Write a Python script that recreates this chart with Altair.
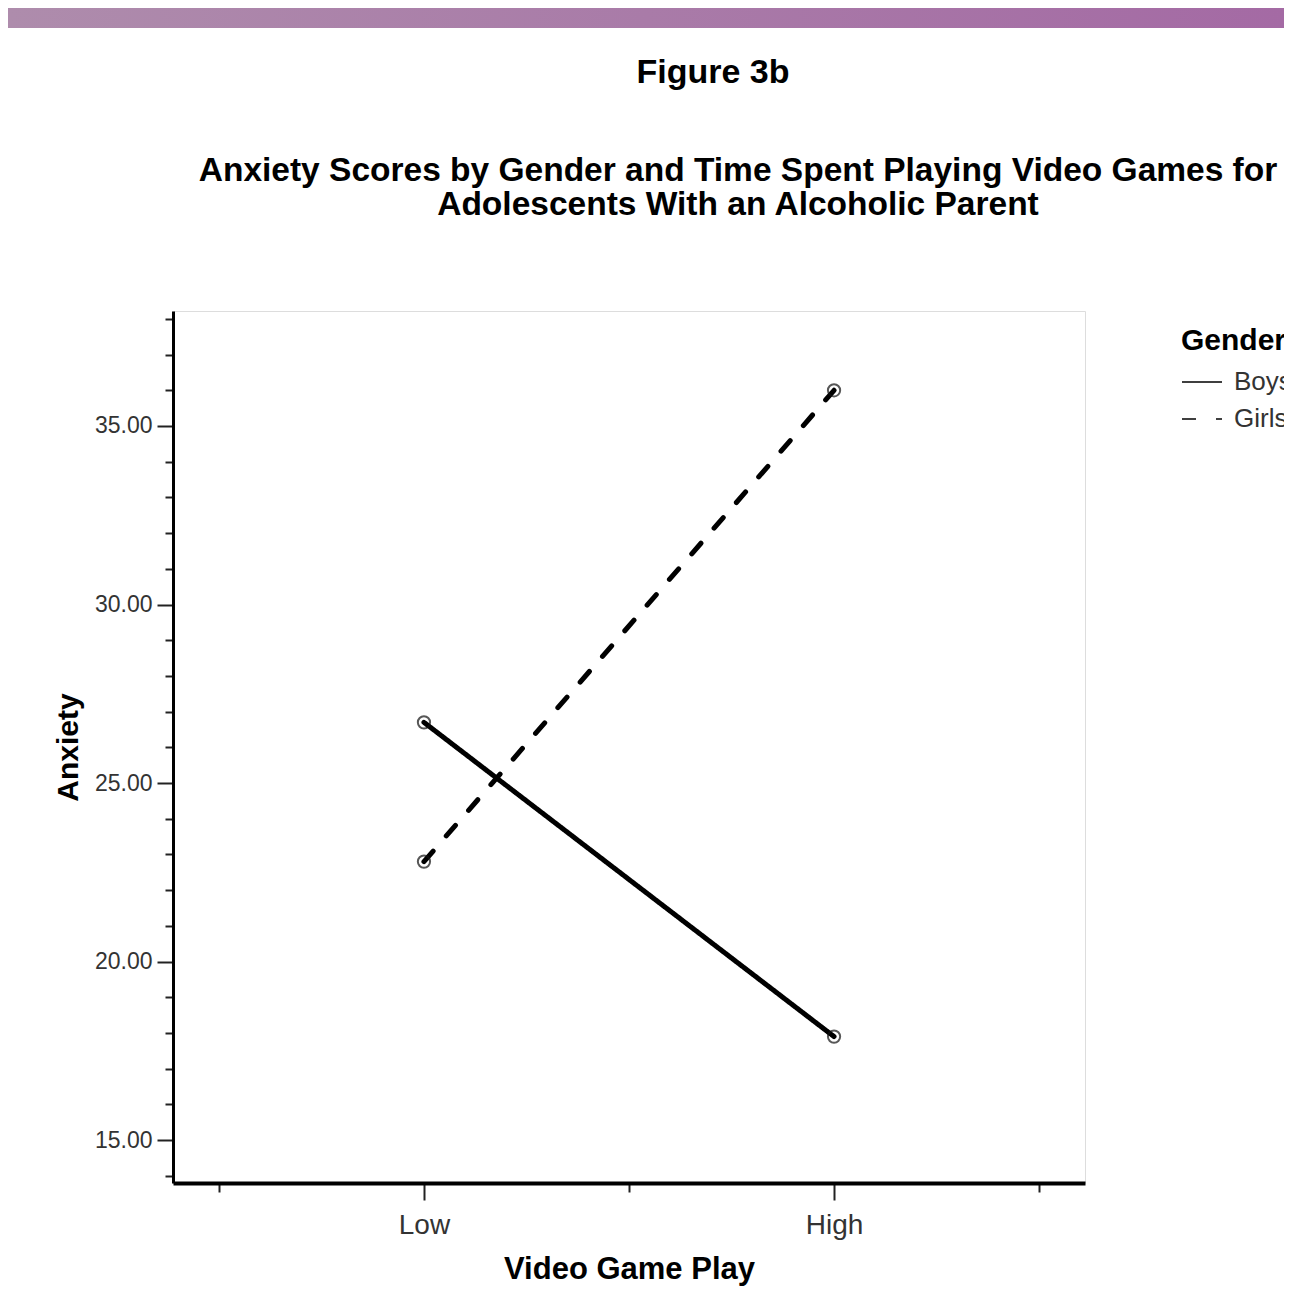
import altair as alt
import pandas as pd

# ---- data ----
play_levels = ["Low", "High"]
genders = ["Boys", "Girls"]
boys_anxiety = [26.7, 17.9]
girls_anxiety = [22.8, 36.0]

y_tick_values = list(range(14, 39))
x_axis_slots = ["_a", "Low", "_b", "High", "_c"]

title_lines = ["Anxiety Scores by Gender and Time Spent Playing Video Games for",
               "Adolescents With an Alcoholic Parent"]
figure_label = "Figure 3b"

rows = []
for g, vals in zip(genders, [boys_anxiety, girls_anxiety]):
    for p, v in zip(play_levels, vals):
        rows.append({"Gender": g, "Video Game Play": p, "Anxiety": v})
df = pd.DataFrame(rows)

FONT = "Liberation Sans"
W, H = 912, 872
PAD_L, PAD_T, PAD_R, PAD_B = 165, 303, 199, 115

x_enc = alt.X(
    "Video Game Play:O",
    scale=alt.Scale(type="point", domain=x_axis_slots, padding=0.224),
    axis=alt.Axis(
        title="Video Game Play",
        labelExpr="indexof(['Low','High'], datum.value) >= 0 ? datum.value : ''",
        labelAngle=0, labelOverlap=False,
        labelFont=FONT, labelFontSize=28, labelColor="#333333",
        labelPadding=11,
        tickSize={"condition": {"test": "indexof(['Low','High'], datum.value) >= 0", "value": 17}, "value": 9},
        tickWidth=2, tickColor="#222222",
        domainColor="#000000", domainWidth=4,
        titleFont=FONT, titleFontSize=31, titleFontWeight="bold", titleColor="#000000",
        titleY=86, titleBaseline="middle",
    ),
)

y_enc = alt.Y(
    "Anxiety:Q",
    scale=alt.Scale(domain=[13.8, 38.22], nice=False, zero=False),
    axis=alt.Axis(
        title="Anxiety",
        values=y_tick_values,
        tickCount=len(y_tick_values),
        labelOverlap=False,
        labelExpr="datum.value % 5 == 0 ? format(datum.value, '.2f') : ''",
        labelFont=FONT, labelFontSize=23, labelColor="#333333",
        labelPadding=5,
        tickSize={"condition": {"test": "datum.value % 5 == 0", "value": 16}, "value": 8},
        tickWidth=2, tickColor="#222222",
        domainColor="#000000", domainWidth=3,
        titleFont=FONT, titleFontSize=30, titleFontWeight="bold", titleColor="#000000",
        titleAngle=-90, titleX=-105, titleY=H / 2, titleAlign="center", titleBaseline="middle",
        grid=False,
    ),
)

dash = alt.StrokeDash(
    "Gender:N",
    scale=alt.Scale(domain=genders, range=[[1, 0], [14, 20]]),
    legend=alt.Legend(
        title="Gender", orient="none", legendX=1008, legendY=15,
        titleFont=FONT, titleFontSize=30, titleFontWeight="bold", titleColor="#000000",
        titlePadding=5,
        labelFont=FONT, labelFontSize=26, labelColor="#333333",
        symbolType="stroke", symbolSize=1600, symbolStrokeWidth=1.5,
        symbolStrokeColor="#000000", labelOffset=11, rowPadding=3,
    ),
)

lines = alt.Chart(df).mark_line(color="#000000", strokeCap="round").encode(
    x=x_enc, y=y_enc, strokeDash=dash, strokeWidth=alt.value(5)
)

points = alt.Chart(df).mark_point(filled=False, size=150, color="#111111", strokeWidth=2).encode(
    x=alt.X("Video Game Play:O"), y=alt.Y("Anxiety:Q")
)

one = pd.DataFrame({"k": [0]})
band = alt.Chart(one).mark_rect(
    color=alt.LinearGradient(
        gradient="linear",
        stops=[alt.GradientStop(color="#ae8cac", offset=0), alt.GradientStop(color="#a46aa4", offset=1)],
        x1=0, x2=1, y1=0, y2=0,
    )
).encode(x=alt.value(-PAD_L), x2=alt.value(W + PAD_R), y=alt.value(-PAD_T), y2=alt.value(-PAD_T + 20))

fig_text = alt.Chart(one).mark_text(
    text=figure_label, font=FONT, fontSize=34, fontWeight="bold", color="#000000",
    align="center", baseline="middle",
).encode(x=alt.value(540), y=alt.value(-238))

title_text = alt.Chart(one).mark_text(
    text=title_lines, font=FONT, fontSize=33.5, fontWeight="bold", color="#000000",
    align="center", baseline="middle", lineHeight=34,
).encode(x=alt.value(565), y=alt.value(-140))

chart = alt.layer(band, fig_text, title_text, lines, points).properties(
    width=W, height=H,
    autosize=alt.AutoSizeParams(type="none"),
    padding={"left": PAD_L, "top": PAD_T, "right": PAD_R, "bottom": PAD_B},
).configure_view(stroke="#777777", strokeWidth=2).configure(background="#ffffff")

chart.save("out.html", embed_options={"renderer": "svg", "actions": False})
